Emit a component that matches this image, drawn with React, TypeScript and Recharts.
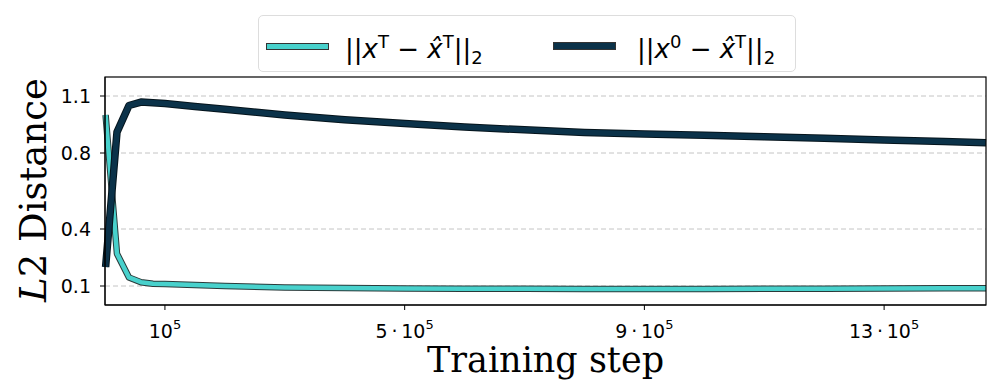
import React from "react";
import { LineChart, Line, XAxis, YAxis, CartesianGrid } from "recharts";

const steps = [1000, 20000, 40000, 60000, 80000, 100000, 150000, 200000, 300000, 400000, 500000, 600000, 700000, 800000, 900000, 1000000, 1100000, 1200000, 1300000, 1400000, 1470000];
const distT = [1.0, 0.27, 0.145, 0.12, 0.112, 0.11, 0.105, 0.1, 0.092, 0.089, 0.087, 0.086, 0.085, 0.084, 0.084, 0.084, 0.085, 0.086, 0.087, 0.088, 0.088];
const dist0 = [0.2, 0.91, 1.05, 1.068, 1.065, 1.06, 1.045, 1.03, 1.0, 0.975, 0.955, 0.937, 0.922, 0.908, 0.9, 0.893, 0.885, 0.877, 0.868, 0.86, 0.854];

const yTicks = [0.1, 0.4, 0.8, 1.1];
const xTicks = [100000, 500000, 900000, 1300000];
const xTickPrefix = ["", "5\u2009\u00b7\u2009", "9\u2009\u00b7\u2009", "13\u2009\u00b7\u2009"];

const CYAN = "#48d1cc";
const NAVY = "#0b3249";

const data = steps.map((s, i) => ({ step: s, t: distT[i], z: dist0[i] }));

const XTick = (props: any) => {
  const { x, y, payload } = props;
  const i = xTicks.indexOf(payload.value);
  return (
    <g>
      <line x1={x} x2={x} y1={y - 8} y2={y - 3} stroke="#000" strokeWidth={1} />
      <text x={x} y={y + 25} textAnchor="middle" fontFamily="DejaVu Sans" fontSize={19} fill="#000">
        {xTickPrefix[i]}10
        <tspan dy={-9} fontSize={13}>5</tspan>
      </text>
    </g>
  );
};

const LegendMath = ({ sup, left }: { sup: string; left: number }) => (
  <div style={{ position: "absolute", left, top: 9, fontFamily: "DejaVu Sans", fontSize: 26, lineHeight: "34px", color: "#000", whiteSpace: "nowrap" }}>
    ||<i>x</i>
    <sup style={{ fontSize: 18 }}>{sup}</sup> {"\u2212"} <i>x{"\u0302"}</i>
    <sup style={{ fontSize: 18 }}>T</sup>||<sub style={{ fontSize: 18 }}>2</sub>
  </div>
);

const Swatch = ({ color, h, left }: { color: string; h: number; left: number }) => (
  <div style={{ position: "absolute", left, top: 29 - h / 2, width: 61, height: h, background: color, border: "1px solid #333" }} />
);

export default function App() {
  return (
    <div style={{ position: "absolute", left: 0, top: 0, width: 996, height: 390, background: "#fff" }}>
      <LineChart width={996} height={390} data={data} margin={{ top: 77, right: 10, left: 45, bottom: 0 }}>
        <CartesianGrid vertical={false} horizontalValues={yTicks} stroke="#c4c4c4" strokeDasharray="5 3" />
        <XAxis
          dataKey="step"
          type="number"
          domain={[0, 1470000]}
          ticks={xTicks}
          height={85}
          tickLine={false}
          tick={<XTick />}
          stroke="#000"
          label={{ value: "Training step", position: "insideBottom", offset: 18, fontFamily: "DejaVu Serif", fontSize: 35, fill: "#000" }}
        />
        <YAxis
          type="number"
          domain={[0, 1.2]}
          ticks={yTicks}
          width={60}
          tickSize={5}
          tickMargin={9}
          stroke="#000"
          tick={{ fontFamily: "DejaVu Sans", fontSize: 19, fill: "#000" }}
          tickFormatter={(v: number) => v.toFixed(1)}
        />
        <Line dataKey="t" stroke="#2a3a3a" strokeWidth={6.5} dot={false} isAnimationActive={false} strokeLinejoin="round" />
        <Line dataKey="t" stroke={CYAN} strokeWidth={4.5} dot={false} isAnimationActive={false} strokeLinejoin="round" />
        <Line dataKey="z" stroke="#05141c" strokeWidth={7.5} dot={false} isAnimationActive={false} strokeLinejoin="round" />
        <Line dataKey="z" stroke={NAVY} strokeWidth={5.5} dot={false} isAnimationActive={false} strokeLinejoin="round" />
      </LineChart>
      <svg style={{ position: "absolute", left: 0, top: 0, pointerEvents: "none" }} width={996} height={390}>
        <rect x={105} y={77} width={881} height={228} fill="none" stroke="#000" strokeWidth={1.2} />
        <text transform="translate(46,190) rotate(-90)" textAnchor="middle" fontFamily="DejaVu Serif" fontSize={37} fill="#000">
          <tspan fontStyle="italic">L</tspan>2 Distance
        </text>
      </svg>
      <div
        style={{
          position: "absolute",
          left: 258,
          top: 15,
          width: 538,
          height: 57,
          boxSizing: "border-box",
          border: "1px solid #ddd",
          borderRadius: 5,
        }}
      >
        <Swatch color={CYAN} h={5} left={7} />
        <LegendMath sup="T" left={86} />
        <Swatch color={NAVY} h={6} left={294} />
        <LegendMath sup="0" left={378} />
      </div>
    </div>
  );
}
